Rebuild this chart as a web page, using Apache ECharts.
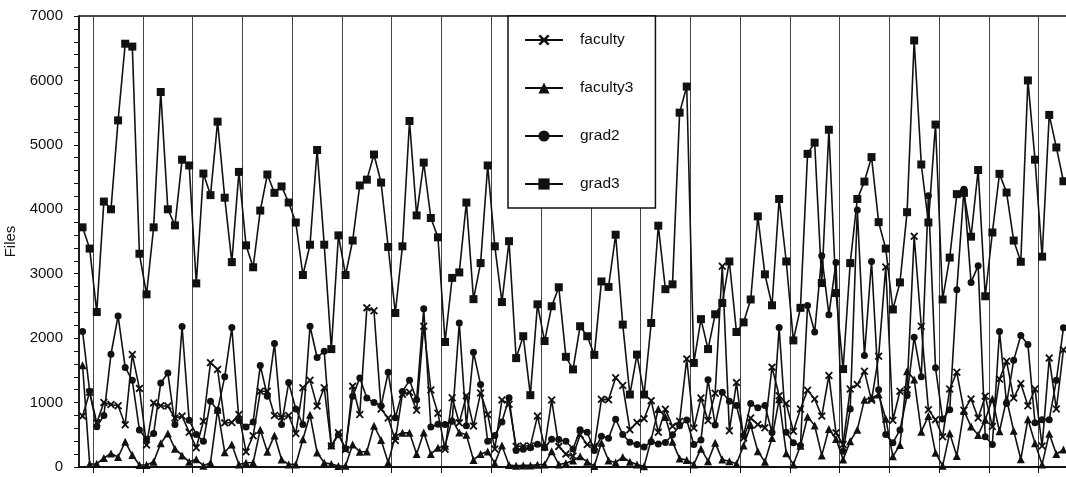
<!DOCTYPE html>
<html>
<head>
<meta charset="utf-8">
<script src="https://cdn.jsdelivr.net/npm/echarts@6/dist/echarts.min.js"></script>
<style>
  html, body { margin: 0; padding: 0; background: #fff; }
  #chart { width: 1066px; height: 477px; }
</style>
</head>
<body>
<div id="chart"></div>
<script>
// daily file counts (one value per day)
const faculty = [790,1160,685,1000,970,950,655,1745,1220,340,
  995,950,945,760,790,540,300,710,1620,1515,
  685,690,815,235,485,1175,1175,800,780,800,
  520,1230,1345,945,1230,325,530,270,1255,815,
  2470,2425,900,760,410,1130,1160,880,2185,1195,
  835,275,1075,685,1105,635,1150,815,280,1040,
  975,320,325,325,790,310,1040,320,200,170,
  500,350,320,1050,1045,1385,1265,580,690,748,
  1030,540,895,632,710,1678,605,1070,722,1145,
  3115,562,1310,450,760,660,610,1550,1105,985,
  555,900,1190,1055,790,1420,530,350,1210,1280,
  1485,1035,1720,3105,725,1175,1200,3580,2185,890,
  735,470,1210,1470,880,1055,760,1100,630,1365,
  1640,1070,1295,950,1210,325,1690,900,1820];

const faculty3 = [1580,45,50,140,210,155,390,185,30,30,
  80,370,520,285,180,80,120,20,65,890,
  230,350,40,65,70,580,235,490,115,40,
  40,430,810,225,65,45,15,20,350,235,
  240,640,420,70,480,530,530,200,535,200,
  300,330,735,535,500,110,200,240,60,335,
  30,20,25,25,35,40,245,40,60,100,
  165,80,15,375,100,70,155,80,40,10,
  425,900,775,390,130,108,40,285,90,375,
  115,90,50,335,650,245,80,450,1050,215,
  40,330,780,645,180,590,435,115,400,580,
  1045,1070,1125,750,165,340,1485,1360,548,790,
  220,18,525,172,870,628,498,735,1060,555,
  1050,562,120,740,368,40,518,202,270];

const grad2 = [2105,1175,625,800,1750,2345,1545,1345,575,430,
  520,1305,1460,660,2180,725,505,400,1020,880,
  1400,2165,720,620,700,1575,1100,1915,660,1310,
  900,660,2185,1700,1795,325,500,285,1100,1380,
  1070,1000,950,1470,765,1170,1345,1045,2455,620,
  665,660,710,2235,640,1780,1280,400,488,700,
  1075,255,275,300,355,300,430,425,400,280,
  580,540,255,478,445,742,505,385,350,310,
  390,358,380,500,640,730,350,420,1355,652,
  1160,1020,955,490,985,920,955,535,2165,540,
  375,335,2505,2095,3280,2365,3175,245,900,3990,
  1730,3190,1200,505,375,575,1110,2015,1400,4210,
  1540,745,890,2750,4310,2865,3125,470,350,2105,
  985,1655,2040,1900,685,735,735,1345,2160];

const grad3 = [3720,3390,2405,4120,4000,5380,6570,6525,3310,2680,
  3720,5820,4000,3750,4770,4680,2850,4555,4220,5360,
  4180,3180,4580,3440,3100,3980,4540,4255,4355,4105,
  3795,2980,3450,4920,3450,1830,3595,2980,3515,4370,
  4460,4850,4415,3415,2390,3425,5370,3905,4725,3865,
  3565,1940,2935,3020,4105,2605,3165,4680,3425,2560,
  3505,1690,2030,1115,2525,1955,2495,2790,1710,1515,
  2185,2030,1740,2880,2795,3605,2210,1125,1745,1125,
  2235,3745,2760,2835,5500,5905,1615,2295,1830,2370,
  2545,3190,2095,2245,2600,3890,2990,2510,4160,3190,
  1965,2470,4860,5035,2855,5235,2700,1520,3165,4160,
  4430,4810,3800,3390,2445,2865,3955,6620,4695,3795,
  5315,2600,3250,4235,4255,3575,4610,2650,3640,4550,
  4260,3515,3185,6000,4770,3265,5465,4960,4435];

const days = grad3.map((_, i) => i + 1);
const yTicks = [0, 1000, 2000, 3000, 4000, 5000, 6000, 7000];

const ink = '#111';
const xMark = 'path://M0,1.6 L1.6,0 L5,3.4 L8.4,0 L10,1.6 L6.6,5 L10,8.4 L8.4,10 L5,6.6 L1.6,10 L0,8.4 L3.4,5 Z';
// week separators fall between day 2 and day 3, then every 7 days
const weekTick = (idx) => idx % 7 === 2;

function line(name, data, symbol, size) {
  return {
    name, type: 'line', data, symbol, symbolSize: size,
    showAllSymbol: true,
    lineStyle: { color: ink, width: 1.6 },
    itemStyle: { color: ink },
  };
}

const chart = echarts.init(document.getElementById('chart'));
chart.setOption({
  animation: false,
  backgroundColor: '#fff',
  textStyle: { fontFamily: '"Liberation Sans", Arial, sans-serif' },
  grid: {
    left: 79, top: 16, width: 988, height: 451,
    outerBoundsMode: 'none', containLabel: false,
    show: true, borderColor: ink, borderWidth: 1.5,
  },
  legend: {
    orient: 'vertical', left: 508, top: 16,
    backgroundColor: '#fff', borderColor: ink, borderWidth: 1.5,
    padding: [16, 22, 16, 16], itemGap: 32, itemWidth: 38, itemHeight: 14,
    textStyle: { fontSize: 15.5, color: ink, padding: [0, 0, 0, 12] },
    data: ['faculty', 'faculty3', 'grad2', 'grad3'],
  },
  xAxis: {
    type: 'category', data: days, boundaryGap: true,
    axisLine: { lineStyle: { color: ink, width: 2 } },
    axisTick: { show: true, length: 6, interval: weekTick, lineStyle: { color: ink } },
    axisLabel: { show: false },
    splitLine: { show: true, interval: weekTick, lineStyle: { color: '#444', width: 1 } },
  },
  yAxis: {
    type: 'value', min: yTicks[0], max: yTicks[yTicks.length - 1], interval: 1000,
    name: 'Files', nameLocation: 'middle', nameGap: 57,
    nameTextStyle: { fontSize: 15, color: ink },
    axisLine: { show: true, lineStyle: { color: ink, width: 1.5 } },
    axisTick: { show: true, length: 5, lineStyle: { color: ink } },
    minorTick: { show: true, splitNumber: 5, length: 5, lineStyle: { color: ink } },
    axisLabel: { color: ink, fontSize: 15, margin: 16, formatter: (v) => String(v) },
    splitLine: { show: false },
  },
  series: [
    line('faculty', faculty, xMark, 8),
    line('faculty3', faculty3, 'triangle', 8),
    line('grad2', grad2, 'circle', 7),
    line('grad3', grad3, 'rect', 8),
  ],
});
</script>
</body>
</html>
